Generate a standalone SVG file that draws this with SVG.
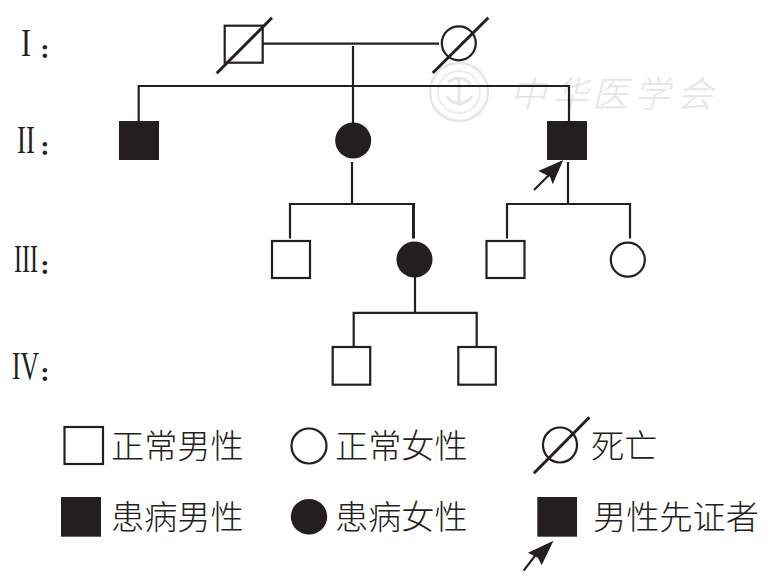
<svg xmlns="http://www.w3.org/2000/svg" width="770" height="579" viewBox="0 0 770 579">
<style>
.l{fill:none;stroke:#231f20;stroke-width:2.2}
.s{fill:none;stroke:#231f20;stroke-width:2.2}
.d{fill:none;stroke:#231f20;stroke-width:3}
.f{fill:#231f20}
.o{fill:#fff;stroke:#231f20;stroke-width:2.2}
.t{font-family:"Noto Sans CJK SC","Liberation Serif",serif;font-size:33.200px;font-weight:300;fill:#231f20}
.r{font-family:"Liberation Serif",serif;font-size:40px;fill:#231f20}
.c{font-family:"Liberation Serif",serif;font-size:28px;font-weight:bold;fill:#231f20;text-anchor:middle}
.w{font-family:"Noto Sans CJK SC",sans-serif;font-size:36px;font-style:italic;font-weight:300;fill:#e4e4e4}
</style>
<g id="watermark">
<circle cx="459" cy="92" r="29" fill="none" stroke="#e6e6e6" stroke-width="2.500"/>
<circle cx="459" cy="92" r="21" fill="none" stroke="#ececec" stroke-width="2"/>
<path d="M448,82C456,76 466,78 470,84M459,78V106M447,96C452,106 466,106 472,96" fill="none" stroke="#e6e6e6" stroke-width="3"/>
<text class="w" x="510" y="107">中</text><text class="w" x="552" y="107">华</text><text class="w" x="592" y="107">医</text><text class="w" x="634" y="107">学</text><text class="w" x="677" y="107">会</text>
</g>
<g id="connectors">
<path class="l" d="M263,43.700H439"/>
<path class="l" d="M353,46V123"/>
<path class="l" d="M138.700,121V86H569V121"/>
<path class="l" d="M352,162V204"/>
<path class="l" d="M290,238.500V204H413.500"/>
<path d="M413.500,203V238.500" fill="none" stroke="#231f20" stroke-width="3"/>
<path class="l" d="M568,162V204"/>
<path class="l" d="M507,238.500V204H630V238.500"/>
<path class="l" d="M415,277V312.800"/>
<path class="l" d="M353.700,348V312.800H476.700V348"/>
</g>
<g id="I-1"><rect class="o" x="224.700" y="25.700" width="38" height="37"/><path class="d" d="M216.700,73.300L272,17.700"/></g>
<g id="I-2"><circle class="o" cx="458.800" cy="43.300" r="17"/><path class="d" d="M432.700,73L488.300,17.700"/></g>
<g id="II-1"><rect class="f" x="119" y="121" width="40" height="39"/></g>
<g id="II-2"><circle class="f" cx="353.200" cy="140.500" r="18"/></g>
<g id="II-3"><rect class="f" x="547" y="121" width="40" height="39"/><path class="s" d="M534,190L553,171"/><path class="f" d="M563.300,160L538.300,171L550,176.700L552.700,184.300Z"/></g>
<g id="III-1"><rect class="o" x="272" y="241" width="38" height="37"/></g>
<g id="III-2"><circle class="f" cx="414.500" cy="259.500" r="18"/></g>
<g id="III-3"><rect class="o" x="486.500" y="241" width="38" height="37"/></g>
<g id="III-4"><circle class="o" cx="627.800" cy="259.700" r="17"/></g>
<g id="IV-1"><rect class="o" x="332.700" y="347" width="37.500" height="37.700"/></g>
<g id="IV-2"><rect class="o" x="458.300" y="347" width="37.500" height="37.700"/></g>
<g id="gen-labels">
<text class="r" transform="translate(21,56) scale(.75,1)">I</text><text class="c" x="45" y="57.500">:</text>
<text class="r" transform="translate(17,153) scale(.67,1)">II</text><text class="c" x="45" y="154.500">:</text>
<text class="r" transform="translate(14,272) scale(.6,1)">III</text><text class="c" x="45" y="273.500">:</text>
<text class="r" transform="translate(12,379) scale(.64,1)">IV</text><text class="c" x="45" y="380.500">:</text>
</g>
<g id="legend">
<rect class="o" x="64.500" y="427" width="38.500" height="37"/><text class="t" x="111" y="458">正常男性</text>
<ellipse class="o" cx="309" cy="446" rx="17.500" ry="17.500"/><text class="t" x="335" y="458">正常女性</text>
<ellipse class="o" cx="560" cy="445" rx="17" ry="17.500"/><path class="d" d="M533.900,473.300L589.400,417.300"/><text class="t" x="591" y="458">死亡</text>
<rect class="f" x="61" y="497" width="40" height="39.700"/><text class="t" x="111" y="529">患病男性</text>
<ellipse class="f" cx="309" cy="516.700" rx="18.200" ry="17.800"/><text class="t" x="335" y="529">患病女性</text>
<rect class="f" x="537.300" y="497" width="39.700" height="39.700"/><text class="t" x="593" y="529">男性先证者</text>
<path class="s" d="M523.600,570.700L538,552"/><path class="f" d="M553.500,540.700L528,552.700L538,558L541.700,565Z"/>
</g>
</svg>
